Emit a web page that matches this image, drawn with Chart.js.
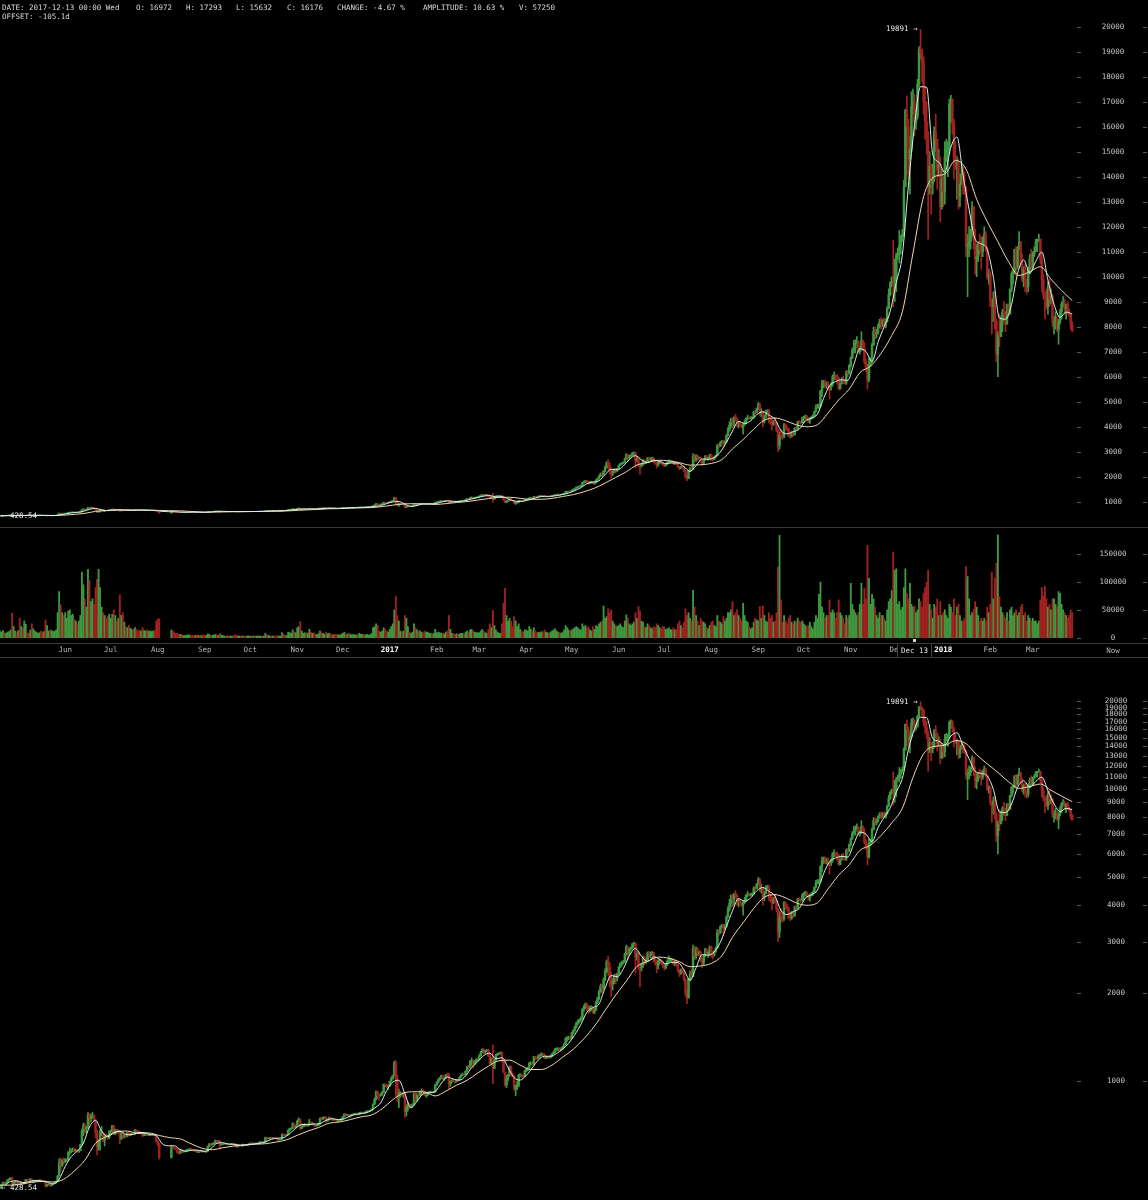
<!DOCTYPE html>
<html>
<head>
<meta charset="utf-8">
<title>BTCUSD daily</title>
<script src="https://cdn.jsdelivr.net/npm/chart.js@4.4.1/dist/chart.umd.min.js"></script>
<style>
html, body { margin: 0; padding: 0; background: #000; }
body { position: relative; width: 1148px; height: 1200px; overflow: hidden; font-family: "DejaVu Sans Mono", monospace; }
canvas { position: absolute; left: 0; }
.txt { position: absolute; color: #d8d8d8; font-size: 7.5px; line-height: 9px; white-space: pre; }
.rule { position: absolute; left: 0; width: 1148px; height: 1px; background: #3b3b3b; }
</style>
</head>
<body>
<canvas id="priceChart" width="1148" height="527" style="top:0px"></canvas>
<canvas id="volumeChart" width="1148" height="129" style="top:528px"></canvas>
<canvas id="logChart" width="1148" height="540" style="top:660px"></canvas>

<div class="rule" style="top:527px"></div>
<div class="rule" style="top:643px"></div>
<div class="rule" style="top:657px"></div>

<div class="txt" style="left:2px;top:3px">DATE: 2017-12-13 00:00 Wed</div>
<div class="txt" style="left:136px;top:3px">O: 16972</div>
<div class="txt" style="left:186px;top:3px">H: 17293</div>
<div class="txt" style="left:236px;top:3px">L: 15632</div>
<div class="txt" style="left:287px;top:3px">C: 16176</div>
<div class="txt" style="left:337px;top:3px">CHANGE: -4.67 %</div>
<div class="txt" style="left:423px;top:3px">AMPLITUDE: 10.63 %</div>
<div class="txt" style="left:519px;top:3px">V: 57250</div>
<div class="txt" style="left:2px;top:12px">OFFSET: -105.1d</div>

<div style="position:absolute;left:913px;top:639px;width:3px;height:3px;background:#d8d8d8"></div>
<div class="txt" style="left:897px;top:644px;width:33px;height:13px;background:#000;border-left:1px solid #454545;border-right:1px solid #454545;text-align:center;line-height:13px;color:#e0e0e0">Dec 13</div>
<div class="txt" style="left:1098px;top:646px;width:30px;text-align:center;color:#b4b4b4">Now</div>

<script>
// day 0 = 2016-04-19, last day 707 = 2018-03-27 (Bitfinex BTCUSD, daily)
const firstOpen = 429;

const closes = [
  // 2016 Apr 19-30
  435,441,449,446,450,458,461,466,445,449,455,448,
  // May
  451,444,450,446,447,460,459,458,461,450,454,455,455,456,458,454,453,454,438,442,443,439,444,446,449,453,473,526,516,534,531,
  // Jun
  537,537,569,573,575,585,576,581,574,577,606,672,704,685,694,766,748,757,764,737,667,596,623,665,665,629,648,647,639,673,
  // Jul
  676,703,659,683,670,677,640,666,650,650,648,664,654,658,663,660,679,673,672,665,665,651,655,661,654,654,655,655,656,654,624,
  // Aug (exchange offline 3-9)
  606,548,null,null,null,null,null,null,null,592,589,587,585,570,567,581,574,574,575,581,581,586,583,580,577,579,570,575,574,577,573,
  // Sep
  572,575,598,608,606,610,614,626,622,623,606,608,609,610,607,607,606,610,610,609,598,596,602,602,600,607,606,604,605,609,
  // Oct
  613,610,612,610,612,612,617,619,616,618,641,636,636,640,638,641,639,637,630,630,632,657,654,653,655,678,688,689,714,697,700,
  // Nov
  729,740,689,703,703,711,704,710,723,716,716,705,702,706,715,744,741,751,751,731,739,751,741,736,740,735,729,733,733,742,
  // Dec
  754,771,765,768,758,764,768,771,772,774,770,780,780,781,778,785,790,790,792,800,834,864,921,891,890,896,913,975,973,961,963,
  // 2017 Jan
  998,1021,1043,1154,1013,903,908,911,902,907,785,812,826,818,822,831,907,862,899,895,921,924,921,892,893,915,918,920,914,920,970,
  // Feb
  989,1011,1029,1045,1015,1024,1052,1047,979,996,1008,998,995,1011,1010,1031,1049,1055,1051,1081,1121,1118,1172,1176,1144,1172,1187,1189,
  // Mar
  1223,1255,1283,1259,1271,1278,1224,1151,1192,1106,1176,1227,1238,1243,1253,1173,1071,971,1022,1047,1120,1050,1040,940,965,967,1045,1047,1039,1037,1080,
  // Apr
  1100,1110,1150,1150,1145,1210,1200,1195,1220,1225,1240,1235,1200,1205,1210,1205,1215,1240,1255,1285,1290,1290,1285,1290,1310,1335,1400,1400,1410,1400,
  // May
  1460,1490,1530,1580,1600,1620,1640,1760,1790,1830,1810,1760,1790,1790,1720,1760,1860,1920,2020,2110,2080,2220,2370,2560,2450,2250,2150,2200,2300,2250,2330,
  // Jun
  2450,2520,2550,2560,2720,2880,2760,2830,2850,2950,2970,2660,2720,2480,2440,2500,2650,2550,2600,2740,2700,2710,2750,2600,2580,2480,2570,2580,2550,2500,
  // Jul
  2440,2510,2570,2610,2610,2610,2520,2570,2520,2380,2340,2400,2380,2230,2000,1930,2230,2320,2280,2840,2680,2830,2740,2760,2580,2540,2680,2820,2730,2760,2880,
  // Aug
  2730,2700,2780,2850,3240,3220,3380,3420,3350,3390,3640,3870,4060,4300,4180,4370,4290,4130,4170,4070,4000,4090,4150,4330,4370,4340,4380,4380,4580,4570,4730,
  // Sep
  4890,4580,4600,4240,4380,4600,4600,4250,4230,4130,4170,4140,3880,3240,3650,3630,3600,4070,3920,3900,3630,3620,3790,3670,3930,3900,4200,4180,4170,4340,
  // Oct
  4400,4410,4320,4230,4330,4370,4440,4610,4770,4780,4820,5430,5640,5820,5680,5720,5600,5580,5700,6000,6030,6010,5930,5520,5740,5900,5780,5750,6150,6130,6460,
  // Nov
  6750,7050,7150,7360,7380,7000,7130,7440,7120,6600,6340,5860,6500,6590,7270,7820,7690,7780,8020,8190,8070,8240,8030,8200,8740,9280,9750,9950,9830,10000,
  // Dec
  10850,10900,11250,11600,11700,13600,16650,16000,14700,15100,16800,16972,16176,16400,17700,19100,18950,18600,17000,16200,15500,13600,14400,13700,13900,15800,15500,14300,14500,12800,13900,
  // 2018 Jan
  13400,14800,15100,15100,16900,17100,16100,14800,14500,14600,13200,13700,14100,13600,13500,11200,11300,11400,11600,12800,11500,10700,10800,11300,11100,11000,11400,11700,11100,10000,10100,
  // Feb
  9050,8800,9100,8200,6900,7700,7600,8200,8600,8500,8100,8900,8500,9500,10100,10200,11100,10400,11100,11400,10500,9900,10300,9700,9600,10300,10700,10400,
  // Mar 1-27
  10900,11000,11400,11500,11500,10700,9900,9300,9200,8800,9600,9100,9200,8200,8200,8300,7900,8200,8600,8900,8900,8700,8900,8600,8500,8100,7850
];

const highs = [
  438,443,451,451,451,460,463,467,467,450,456,456,
  452,452,451,451,449,461,461,461,464,462,455,457,457,457,459,459,455,456,455,443,446,445,445,447,451,455,475,541,546,539,546,
  542,541,573,590,585,590,587,584,582,579,607,685,718,715,700,780,775,770,781,765,740,680,630,680,700,665,660,660,650,675,
  680,705,705,685,683,680,678,670,660,657,655,667,670,662,665,666,683,680,675,672,668,666,660,664,663,660,658,657,658,658,655,
  626,612,null,null,null,null,null,null,null,600,595,592,590,587,572,583,582,578,577,583,585,588,588,584,581,581,580,576,579,579,578,
  577,576,600,612,610,612,616,628,627,625,625,610,611,612,611,609,609,611,612,611,610,598,604,604,603,608,608,606,607,610,
  614,615,613,613,614,614,619,620,619,619,643,642,638,641,642,642,641,640,637,632,633,659,660,655,657,680,690,692,720,717,705,
  735,748,742,705,706,715,713,714,740,723,722,717,706,709,718,748,752,753,754,755,741,752,751,742,742,741,737,735,736,745,
  756,773,773,769,768,765,770,773,775,777,775,781,783,783,782,786,792,793,793,802,835,875,925,923,897,909,922,977,980,975,965,
  1000,1032,1048,1170,1175,1048,938,920,915,915,912,830,845,832,830,836,910,912,904,903,925,940,935,925,900,918,922,925,922,924,975,
  995,1015,1030,1048,1045,1030,1055,1066,1063,1000,1010,1015,1001,1014,1014,1035,1053,1065,1060,1084,1125,1130,1175,1200,1180,1175,1190,1192,
  1230,1265,1290,1290,1275,1282,1285,1235,1200,1330,1190,1235,1245,1250,1257,1260,1175,1075,1050,1055,1125,1125,1065,1045,970,1000,1055,1060,1055,1045,1090,
  1105,1115,1160,1165,1160,1215,1215,1210,1230,1235,1250,1245,1240,1215,1215,1215,1225,1245,1265,1295,1300,1300,1300,1300,1315,1345,1410,1420,1425,1420,
  1470,1500,1545,1590,1620,1630,1660,1770,1820,1850,1850,1810,1810,1810,1800,1780,1880,1940,2050,2150,2140,2250,2420,2600,2680,2550,2350,2250,2320,2330,2340,
  2470,2540,2570,2590,2740,2920,2880,2860,2880,2960,2990,2980,2780,2780,2520,2520,2680,2680,2630,2770,2780,2760,2780,2760,2650,2600,2600,2620,2600,2560,
  2520,2530,2600,2680,2640,2630,2620,2580,2580,2530,2410,2420,2430,2400,2240,2050,2250,2380,2420,2920,2880,2880,2860,2790,2780,2620,2700,2850,2840,2780,2900,
  2900,2780,2800,2880,3300,3300,3400,3440,3440,3440,3680,3960,4190,4340,4330,4390,4490,4370,4200,4170,4080,4140,4260,4350,4460,4380,4400,4400,4630,4640,4750,
  4980,4940,4720,4600,4450,4660,4680,4690,4350,4330,4250,4370,4160,3900,3800,3890,3800,4120,4100,4030,3950,3760,3810,3800,3970,3990,4220,4250,4210,4380,
  4420,4470,4450,4350,4360,4420,4470,4620,4870,4900,4900,5450,5850,5850,5860,5790,5800,5610,5760,6070,6190,6080,6080,5980,5750,5970,6030,5860,6240,6250,6480,
  6800,7150,7450,7480,7600,7440,7200,7800,7470,7350,6700,6500,6750,6750,7350,7980,7990,7900,8100,8300,8360,8290,8350,8320,8800,9520,9800,10000,11450,10700,
  10950,11150,11850,11650,11900,13850,16700,17230,16300,15600,17400,17500,17293,16700,17900,19200,19891,19100,18800,17600,17000,15800,15000,14500,14500,16000,16500,15500,15100,14800,14300,
  14000,15400,15500,15400,17100,17250,17100,16300,15400,14800,14700,14100,14600,14400,14200,13600,11700,12000,11900,13000,12800,11900,11300,11400,11700,11600,11600,12000,11800,11200,10300,
  10200,9100,9400,9400,8300,7800,8500,8400,8700,9000,8600,8900,8900,9500,10200,10300,11100,11200,11200,11800,11400,10900,10400,10500,9900,10400,10900,11100,
  11000,11200,11500,11500,11700,11500,10900,10100,9400,9500,9800,9900,9500,9300,8400,8600,8400,8300,8700,9000,9200,9100,8900,9000,8700,8500,8200
];

const lows = [
  428.54,432,441,443,444,449,457,459,443,440,446,446,
  447,442,443,442,444,447,457,456,458,448,448,452,453,453,455,451,452,452,433,436,440,436,437,443,445,447,452,472,490,509,518,
  525,530,536,560,568,575,570,574,571,570,577,601,650,660,665,690,710,725,745,728,640,558,580,580,650,620,600,640,630,635,
  665,670,655,655,662,665,610,630,635,640,640,645,650,650,655,655,655,665,668,660,660,645,650,650,650,650,650,652,653,650,620,
  600,540,null,null,null,null,null,null,null,545,585,584,582,565,562,565,570,570,572,574,579,582,580,576,574,575,568,568,572,571,571,
  570,570,575,595,601,604,608,612,618,619,584,603,606,607,605,605,604,605,608,607,596,592,595,600,598,598,604,603,603,604,
  607,608,608,607,609,609,610,616,614,614,617,632,633,634,636,636,636,635,626,627,629,630,650,650,651,654,673,682,688,690,690,
  700,724,682,687,696,698,700,700,704,709,712,700,699,700,703,711,734,739,745,720,728,735,737,733,735,733,727,726,730,730,
  740,752,760,760,751,752,762,766,768,770,766,768,776,776,775,775,784,786,788,790,800,831,860,870,860,887,895,912,955,950,935,
  960,990,1016,1040,880,850,810,880,890,880,750,760,790,805,810,816,828,850,853,870,890,895,905,890,880,890,910,910,910,910,915,
  965,985,1005,1020,1010,1005,1022,1040,940,960,990,995,985,993,1000,1005,1030,1045,1040,1050,1078,1095,1110,1130,1110,1140,1160,1170,
  1185,1215,1250,1240,1245,1260,1215,1140,1140,980,1100,1170,1225,1235,1235,1165,1070,960,950,1000,1040,1040,1030,930,890,935,955,1035,1025,1030,1035,
  1075,1085,1105,1135,1130,1140,1185,1185,1190,1210,1220,1225,1190,1195,1195,1195,1200,1210,1235,1250,1270,1270,1265,1270,1285,1300,1330,1370,1385,1385,
  1400,1450,1480,1520,1560,1580,1600,1630,1730,1770,1740,1700,1720,1740,1700,1700,1740,1840,1900,2010,2000,2060,2200,2350,2300,2100,1950,2050,2150,2150,2200,
  2320,2440,2480,2520,2550,2700,2600,2700,2800,2830,2880,2350,2600,2400,2100,2380,2450,2500,2530,2580,2650,2650,2700,2550,2500,2350,2420,2520,2500,2450,
  2400,2420,2480,2560,2570,2560,2500,2480,2480,2370,2280,2320,2340,2200,1950,1840,1920,2200,2250,2280,2600,2620,2680,2700,2560,2450,2500,2660,2710,2650,2700,
  2650,2620,2680,2760,2850,3150,3200,3340,3150,3300,3380,3640,3820,3950,3950,4000,4250,4000,3950,4000,3950,3700,4050,4120,4280,4300,4300,4320,4350,4500,4550,
  4680,4450,4400,4000,4150,4380,4550,4150,4090,3850,4050,4080,3800,3000,3100,3500,3500,3550,3900,3850,3600,3540,3580,3630,3680,3850,3880,4140,4100,4140,
  4160,4300,4250,4160,4130,4300,4320,4420,4590,4740,4720,4800,5200,5560,5550,5530,5480,5110,5460,5620,5870,5870,5700,5470,5500,5700,5720,5700,5690,6000,6100,
  6380,6720,6950,6950,7300,6950,6900,7050,7050,6500,6200,5500,5800,6400,6550,7250,7500,7550,7700,7950,7900,8000,8000,7950,8180,8720,9230,9600,8800,9000,
  9400,10700,10550,10900,11400,11600,13600,14100,13900,13300,15000,16500,15632,15900,16300,17600,18700,17800,16500,15500,14900,11500,13300,12500,13300,13800,15000,13500,14000,12200,12700,
  12800,12900,14600,14000,14900,16200,15700,13900,14300,13100,12700,12800,13700,13300,13300,10800,9200,10800,11100,11600,11100,10100,10000,10600,10900,10300,10800,11300,11000,9900,9700,
  8800,7700,8200,7900,6600,6000,7200,7600,7800,8100,7800,8100,8400,8500,9400,9700,10100,10000,10300,11100,10400,9800,9600,9400,9300,9400,10100,10300,
  10300,10800,11000,11000,11400,10500,9400,9100,8300,8700,8500,8800,8900,8000,7700,7900,7800,7300,8100,8300,8800,8500,8300,8500,8400,7900,7800
];

// daily volume, thousands of BTC
const volumes = [
  12,10,13,9,8,10,11,14,44,20,12,9,
  13,35,20,18,30,24,9,8,14,25,16,12,10,8,9,12,10,11,32,22,12,14,13,11,12,14,45,83,59,45,40,
  45,35,48,50,40,42,33,30,25,30,40,118,95,70,55,123,103,65,70,60,90,105,123,90,55,45,40,35,38,42,
  35,42,50,40,30,35,77,40,45,28,20,18,22,17,14,15,18,15,12,14,12,18,13,12,14,12,12,11,12,13,30,
  34,34,null,null,null,null,null,null,null,14,12,9,7,8,6,6,5,4,4,4,5,5,4,4,4,4,5,4,4,4,5,
  4,4,7,6,4,4,5,6,5,4,8,5,4,3,3,3,3,3,3,3,5,4,3,3,3,3,3,3,3,3,
  3,3,3,3,3,3,3,3,3,3,8,5,4,3,3,3,3,3,4,3,3,9,6,4,4,10,9,8,14,10,9,
  18,20,29,12,8,9,9,8,15,10,8,9,6,6,7,12,9,8,6,10,7,8,7,6,5,6,6,5,5,6,
  8,10,7,6,8,6,5,6,5,5,6,8,6,6,6,5,6,5,5,8,18,20,25,22,12,10,12,18,15,12,10,
  15,20,25,50,74,40,30,12,10,12,40,35,20,10,8,10,25,18,14,12,12,10,9,12,10,10,8,8,7,8,15,
  9,10,9,8,8,7,10,12,40,15,8,7,6,7,6,7,8,8,6,10,12,10,14,15,12,10,9,9,
  9,12,15,12,9,8,15,25,18,49,22,14,10,8,8,25,62,89,40,30,35,30,20,38,30,20,25,15,12,10,14,
  14,12,20,15,12,18,12,9,10,9,11,10,14,10,9,8,10,12,14,16,12,10,9,8,10,14,22,18,14,12,
  14,16,18,20,18,15,14,25,20,22,18,20,14,12,20,15,22,20,25,28,30,57,35,38,52,45,50,30,25,22,20,
  22,25,20,18,30,41,35,25,22,25,28,45,35,56,48,30,28,20,18,25,22,18,16,20,18,25,22,18,16,20,
  20,15,16,18,15,14,18,14,15,25,30,22,18,28,52,40,45,35,30,85,55,40,30,22,35,30,28,25,18,16,22,
  28,30,22,20,40,30,28,25,38,30,35,45,45,50,65,40,45,50,40,35,30,62,40,30,28,20,16,18,28,35,32,
  30,56,35,57,40,30,28,45,35,40,28,30,45,127,184,68,28,40,30,25,35,40,28,25,30,28,35,30,28,30,
  25,22,20,22,28,20,16,28,40,35,78,100,55,45,35,40,40,68,45,50,45,35,45,68,45,40,35,25,40,35,40,
  98,60,50,45,40,45,60,98,60,89,70,166,107,60,78,70,55,40,35,45,40,40,35,30,50,65,70,85,154,121,
  124,60,65,50,55,90,124,80,70,98,60,55,57,45,50,70,65,55,80,90,100,121,60,50,35,60,55,70,40,65,40,
  45,50,40,35,60,55,45,70,40,55,60,40,30,30,35,128,110,70,40,45,50,65,55,40,30,35,30,35,30,55,45,
  60,118,70,107,134,185,74,55,45,40,35,45,30,50,55,40,45,50,40,45,55,60,40,45,30,40,35,30,
  35,30,30,25,30,68,90,75,92,70,55,60,50,70,70,60,55,83,80,60,50,45,40,35,40,50,45
];

const fastStart = 3, fastStep = 4, slowStep = 7;
const fastMA = [
  438,453,455,449,452,457,455,451,444,461,
  510,551,576,613,696,733,674,645,664,673,
  657,655,666,666,656,650,610,600,600,582,
  575,580,579,574,587,612,615,608,607,602,
  604,608,612,619,632,637,640,660,689,710,
  709,712,715,734,743,738,742,760,768,775,
  783,808,842,928,991,1006,904,810,852,904,
  912,921,983,1032,1015,1007,1041,1111,1165,1224,
  1246,1193,1202,1111,1027,1008,1045,1110,1181,1216,
  1216,1243,1286,1347,1441,1560,1721,1784,1837,2083,
  2297,2276,2423,2689,2843,2674,2566,2664,2610,2519,
  2550,2546,2403,2213,2444,2710,2696,2771,2986,3377,
  3827,4214,4129,4237,4479,4599,4464,4303,3834,3716,
  3800,3899,4229,4343,4504,5124,5639,5806,5876,5853,
  6491,7117,7001,6611,7381,8003,8616,9771,10876,13643,
  16057,17600,17579,14900,14586,14171,15186,15586,14071,12686,
  11500,11314,11086,9979,8350,8300,8886,10129,10671,10143,
  10614,10986,9857,8900,8371,8586,8507
];
const slowMA = [
  440,440,444,450,453,451,461,492,536,612,
  645,671,674,661,664,651,640,633,610,589,
  582,591,599,605,608,610,618,629,652,674,
  693,717,724,738,754,765,804,863,910,919,
  917,889,924,967,1006,1065,1124,1173,1179,1134,
  1095,1095,1134,1207,1285,1396,1542,1745,1970,2199,
  2468,2567,2658,2633,2562,2463,2479,2529,2686,3109,
  3485,3901,4262,4348,4240,4073,3999,4078,4548,5068,
  5507,6163,6421,6936,7650,8599,10950,13200,14000,14100,
  14650,14300,13100,12200,11400,10600,10050,10200,10400,9900,
  9450,9050
];

// axis ticks
const priceTicks = [1000,2000,3000,4000,5000,6000,7000,8000,9000,10000,11000,12000,13000,14000,15000,16000,17000,18000,19000,20000];
const logTicks = [1000,2000,3000,4000,5000,6000,7000,8000,9000,10000,11000,12000,13000,14000,15000,16000,17000,18000,19000,20000];
const volumeTicks = [0,50,100,150];
const monthTickDays = [43,73,104,135,165,196,226,257,288,316,347,377,408,438,469,500,530,561,591,622,653,681];
const monthTickLabels = ['Jun','Jul','Aug','Sep','Oct','Nov','Dec','2017','Feb','Mar','Apr','May','Jun','Jul','Aug','Sep','Oct','Nov','Dec','2018','Feb','Mar'];

const mono = '"DejaVu Sans Mono", monospace';
const upColor = '#3f9a3f';
const downColor = '#a32121';
const fastColor = '#d2f1ed';
const slowColor = '#f0d5b0';
const labelColor = '#c4c4c4';
const xMax = 709.5;

// candles: open is previous close
const wickData = [], bodyData = [], candleColors = [], volData = [], volColors = [];
let prevClose = firstOpen;
closes.forEach(function(c, d) {
	if (c === null) return;
	const o = prevClose;
	const col = c >= o ? upColor : downColor;
	wickData.push({x: d, y: [lows[d], highs[d]]});
	bodyData.push({x: d, y: [o, c]});
	candleColors.push(col);
	if (volumes[d] !== null) {
		volData.push({x: d, y: volumes[d]});
		volColors.push(col);
	}
	prevClose = c;
});
const fastData = fastMA.map((v, i) => ({x: fastStart + i * fastStep, y: v}));
const slowData = slowMA.map((v, i) => ({x: i * slowStep, y: v}));

function isYear(i) {
	const lab = monthTickLabels[i];
	return lab !== undefined && lab.length === 4;
}

// little dashes both sides of the right axis
const axisDashes = {
	id: 'axisDashes',
	afterDraw(chart) {
		const ctx = chart.ctx, area = chart.chartArea, s = chart.scales.y;
		ctx.save();
		ctx.strokeStyle = '#5a5a5a';
		ctx.lineWidth = 1;
		ctx.beginPath();
		s.ticks.forEach(function(t) {
			const py = Math.round(s.getPixelForValue(t.value)) + 0.5;
			ctx.moveTo(area.right + 1, py); ctx.lineTo(area.right + 5, py);
			ctx.moveTo(chart.width - 5, py); ctx.lineTo(chart.width - 1, py);
		});
		ctx.stroke();
		ctx.restore();
	}
};

// highest high / lowest low markers
const extremes = {
	id: 'extremes',
	afterDatasetsDraw(chart) {
		const ctx = chart.ctx, x = chart.scales.x, y = chart.scales.y;
		let hiDay = 0, loDay = 0;
		highs.forEach((v, d) => { if (v !== null && v > highs[hiDay]) hiDay = d; });
		lows.forEach((v, d) => { if (v !== null && v < lows[loDay]) loDay = d; });
		ctx.save();
		ctx.font = '7.5px ' + mono;
		ctx.fillStyle = '#e6e6e6';
		ctx.textBaseline = 'middle';
		ctx.textAlign = 'right';
		ctx.fillText(highs[hiDay] + ' \u2192', x.getPixelForValue(hiDay) - 3, y.getPixelForValue(highs[hiDay]));
		ctx.textAlign = 'left';
		ctx.fillText('\u2190 ' + lows[loDay].toFixed(2), Math.max(x.getPixelForValue(loDay), 0) + 1, y.getPixelForValue(lows[loDay]));
		ctx.restore();
	}
};

function baseOptions(scales) {
	return {
		responsive: false,
		animation: false,
		devicePixelRatio: 1,
		events: [],
		layout: {padding: 0, autoPadding: false},
		plugins: {legend: {display: false}, tooltip: {enabled: false}},
		scales: scales
	};
}

function hiddenX() {
	return {type: 'linear', min: 0, max: xMax, offset: false, display: false};
}

function candleSets() {
	return [
		{type: 'line', data: fastData, borderColor: fastColor, borderWidth: 1, pointRadius: 0, cubicInterpolationMode: 'monotone', order: 0},
		{type: 'line', data: slowData, borderColor: slowColor, borderWidth: 1, pointRadius: 0, cubicInterpolationMode: 'monotone', order: 0},
		{type: 'bar', data: bodyData, backgroundColor: candleColors, barThickness: 1.8, grouped: false, order: 1},
		{type: 'bar', data: wickData, backgroundColor: candleColors, barThickness: 1, grouped: false, order: 2}
	];
}

// linear price panel
new Chart(document.getElementById('priceChart'), {
	type: 'bar',
	data: {datasets: candleSets()},
	options: baseOptions({
		x: hiddenX(),
		y: {
			type: 'linear', position: 'right', min: -12, max: 21068, beginAtZero: false,
			grid: {display: false, drawTicks: false}, border: {display: false},
			afterBuildTicks(s) { s.ticks = priceTicks.map(v => ({value: v})); },
			afterFit(s) { s.width = 72; s.paddingTop = 0; s.paddingBottom = 0; },
			ticks: {color: labelColor, font: {family: mono, size: 7.5}, crossAlign: 'center', padding: 25.7, callback: v => String(v)}
		}
	}),
	plugins: [axisDashes, extremes]
});

// volume panel with the month axis
new Chart(document.getElementById('volumeChart'), {
	type: 'bar',
	data: {datasets: [
		{type: 'bar', data: volData, backgroundColor: volColors, barThickness: 1.2, grouped: false}
	]},
	options: baseOptions({
		x: {
			type: 'linear', min: 0, max: xMax, offset: false, position: 'bottom',
			grid: {display: false, drawTicks: false}, border: {display: false},
			afterBuildTicks(s) { s.ticks = monthTickDays.map(d => ({value: d})); },
			afterFit(s) { s.height = 14; s.paddingLeft = 0; s.paddingRight = 0; },
			ticks: {
				autoSkip: false, maxRotation: 0, minRotation: 0, padding: 3,
				callback: (v, i) => monthTickLabels[i] || '',
				color: c => isYear(c.index) ? '#ffffff' : '#b4b4b4',
				font: c => ({family: mono, size: 7.5, weight: isYear(c.index) ? 'bold' : 'normal'})
			}
		},
		y: {
			type: 'linear', position: 'right', min: -9.53, max: 197.3, beginAtZero: false,
			grid: {display: false, drawTicks: false}, border: {display: false},
			afterBuildTicks(s) { s.ticks = volumeTicks.map(v => ({value: v})); },
			afterFit(s) { s.width = 72; s.paddingTop = 0; s.paddingBottom = 0; },
			ticks: {color: labelColor, font: {family: mono, size: 7.5}, crossAlign: 'center', padding: 23.5, callback: v => String(v * 1000)}
		}
	}),
	plugins: [axisDashes]
});

// log price panel
new Chart(document.getElementById('logChart'), {
	type: 'bar',
	data: {datasets: candleSets()},
	options: baseOptions({
		x: hiddenX(),
		y: {
			type: 'logarithmic', position: 'right', min: 391.4, max: 27657,
			grid: {display: false, drawTicks: false}, border: {display: false},
			afterBuildTicks(s) { s.ticks = logTicks.map(v => ({value: v})); },
			afterFit(s) { s.width = 72; s.paddingTop = 0; s.paddingBottom = 0; },
			ticks: {color: labelColor, font: {family: mono, size: 7.5}, crossAlign: 'center', padding: 28.7, callback: v => String(v)}
		}
	}),
	plugins: [axisDashes, extremes]
});
</script>
</body>
</html>
